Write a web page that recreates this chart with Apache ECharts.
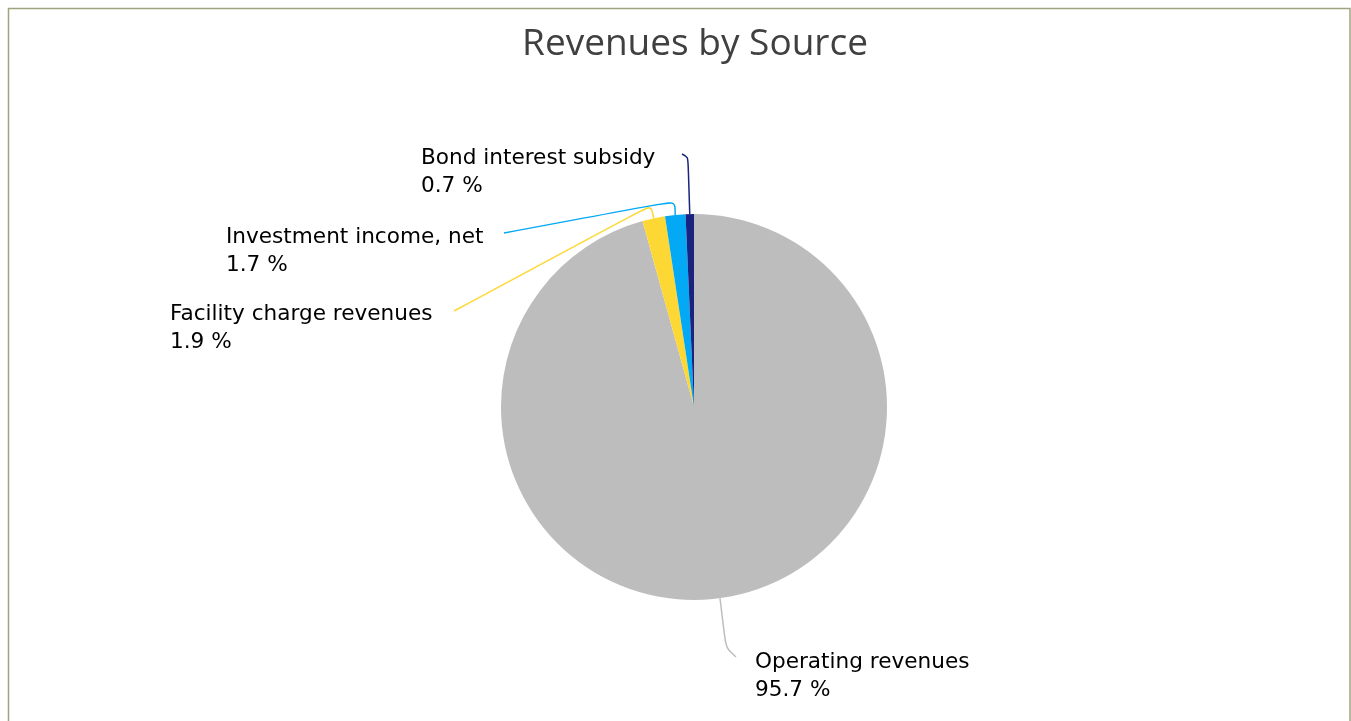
<!DOCTYPE html>
<html>
<head>
<meta charset="utf-8">
<script src="https://cdn.jsdelivr.net/npm/echarts@6/dist/echarts.min.js"></script>
<style>
html,body{margin:0;padding:0;background:#fff;}
#chart{width:1351px;height:721px;}
</style>
</head>
<body>
<div id="chart"></div>
<script>
var categories = ['Operating revenues', 'Facility charge revenues', 'Investment income, net', 'Bond interest subsidy'];
var values = [95.7, 1.9, 1.7, 0.7];
var colors = ['#bdbdbd', '#fdd835', '#03a9f4', '#1a237e'];

// label placement (left x, top y) and bend points of each label line
var labelPos = [
  {x: 755, y: 648, bend: [[726, 648], [736, 657]]},
  {x: 170, y: 300, bend: [[651, 205], [454, 311]]},
  {x: 226, y: 223, bend: [[675, 201], [504, 233]]},
  {x: 421, y: 144, bend: [[688, 157], [682, 154]]}
];

var chart = echarts.init(document.getElementById('chart'));
chart.setOption({
  backgroundColor: '#fff',
  animation: false,
  title: {
    text: 'Revenues by Source',
    left: 690,
    top: 21,
    textAlign: 'center',
    textStyle: {fontFamily: 'Open Sans', fontSize: 37, fontWeight: 'normal', color: '#404040'}
  },
  graphic: [{
    type: 'rect',
    shape: {x: 8.5, y: 8.5, width: 1341.5, height: 760},
    style: {fill: 'none', stroke: '#a0a47e', lineWidth: 1.5},
    silent: true
  }],
  series: [{
    type: 'pie',
    center: [694, 407],
    radius: 193,
    startAngle: 90,
    clockwise: true,
    data: categories.map(function (c, i) {
      return {name: c, value: values[i], itemStyle: {color: colors[i]}, labelLine: {lineStyle: {color: colors[i]}}};
    }),
    label: {
      show: true,
      formatter: function (p) { return p.name + '\n' + p.value.toFixed(1) + ' %'; },
      fontFamily: 'DejaVu Sans',
      fontSize: 21.6,
      lineHeight: 28,
      color: '#000',
      align: 'left'
    },
    labelLine: {show: true, smooth: 0.3, lineStyle: {width: 1.5}},
    labelLayout: function (params) {
      var lp = labelPos[params.dataIndex];
      var anchor = params.labelLinePoints ? params.labelLinePoints[0] : [0, 0];
      return {
        x: lp.x,
        y: lp.y,
        align: 'left',
        verticalAlign: 'top',
        labelLinePoints: [anchor].concat(lp.bend)
      };
    }
  }]
});
</script>
</body>
</html>
